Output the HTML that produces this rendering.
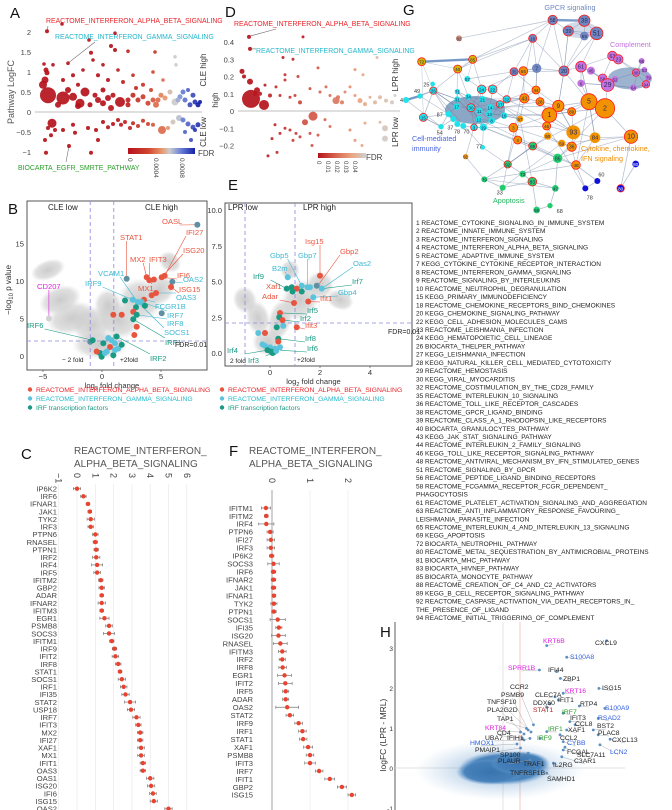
<!DOCTYPE html>
<html><head><meta charset="utf-8">
<style>
html,body{margin:0;padding:0;background:#fff;}
svg{display:block;font-family:"Liberation Sans",Arial,sans-serif;}
</style></head>
<body>
<svg id="fig" width="672" height="810" viewBox="0 0 672 810" xmlns="http://www.w3.org/2000/svg">
<defs>
<linearGradient id="cbA" x1="0" x2="1" y1="0" y2="0">
<stop offset="0" stop-color="#b5121b"/><stop offset="0.3" stop-color="#d0442f"/><stop offset="0.5" stop-color="#e8956a"/><stop offset="0.62" stop-color="#cccccc"/><stop offset="0.78" stop-color="#6f84d8"/><stop offset="1" stop-color="#1520a8"/>
</linearGradient>
<linearGradient id="cbD" x1="0" x2="1" y1="0" y2="0">
<stop offset="0" stop-color="#b5121b"/><stop offset="0.35" stop-color="#d6604d"/><stop offset="0.7" stop-color="#eba57f"/><stop offset="1" stop-color="#d0d0d0"/>
</linearGradient>
<radialGradient id="greyCloud"><stop offset="0" stop-color="#c8c8c8" stop-opacity="0.95"/><stop offset="0.7" stop-color="#d2d2d2" stop-opacity="0.7"/><stop offset="1" stop-color="#dcdcdc" stop-opacity="0"/></radialGradient>
<radialGradient id="blueCloud"><stop offset="0" stop-color="#3a74ae" stop-opacity="1"/><stop offset="0.75" stop-color="#4580ba" stop-opacity="0.95"/><stop offset="1" stop-color="#6a9fd0" stop-opacity="0"/></radialGradient>
<radialGradient id="blueHalo"><stop offset="0" stop-color="#5a8fc4" stop-opacity="0.7"/><stop offset="1" stop-color="#8ab4dc" stop-opacity="0"/></radialGradient>
</defs>
</svg>
<script>
// ---------- Panel A data ----------
const aRank=[9,24,51,77,30,6,8,9,53,73,77,90,117,137,138,15,25,35,40,45,55,60,65,70,80,85,95,105,115,125,10,25,47,42,82,5,7,35,60,65,70,95,100,105,110,115,118,123,127,132,137,142,147,152,157,145,155,150,52,57,75,90,30,20,65,73,98,113,40,90,120,160,162,140,14,17,7,10,25,35,37,50,58,65,70,75,80,83,87,92,95,100,105,110,115,124,130,135,141,145,150,155,160,147,153,157,31,8,53,13,60];
const aLogFC=[2.02,2.2,1.8,1.97,1.22,1.2,1.05,0.98,1.48,1.65,1.55,1.52,1.5,1.38,1.18,1.18,0.8,0.92,0.68,1.05,1.3,0.92,1.18,0.8,1.05,0.75,0.92,0.68,1.0,0.8,0.42,0.35,0.5,0.22,0.25,0.68,0.8,0.38,0.3,0.22,0.35,0.42,0.3,0.38,0.22,0.3,0.18,0.42,0.35,0.5,0.25,0.38,0.3,0.18,0.25,0.5,0.42,0.55,0.18,0.42,0.42,0.3,0.55,0.18,0.55,0.1,0.6,0.55,0.15,0.18,0.3,0.18,0.25,0.3,-0.28,-0.45,-0.7,-0.4,-0.45,-0.32,-0.52,-0.4,-0.45,-0.25,-0.38,-0.3,-0.2,-0.32,-0.25,-0.4,-0.28,-0.35,-0.22,-0.3,-0.32,-0.45,-0.4,-0.25,-0.15,-0.2,-0.3,-0.38,-0.32,-0.5,-0.7,-0.45,-0.85,-1.02,-1.02,-0.58,-0.7];
const aSize=[2,1.8,1.8,1.8,1.8,1.8,2.5,2.5,2,2,2,1.8,1.8,1.8,1.8,1.8,2,2,2,1.8,1.8,2,1.8,2,1.8,2,1.8,2,1.8,1.8,8,6.5,4.5,4.5,5,4,3.5,4,3,3,3,2.5,2.5,2.5,2.5,2.5,3,2.5,2.5,2.5,3.5,2.5,2.5,2.5,2.5,2.5,2.5,2,2.5,2.5,2.5,2.5,3,3,2.5,3,2,2,3,2.5,2.5,2.5,2,2.5,4.5,2,2,2,2,2,2,2,2,2,2,2,2,2,2,2,2,2,2,2,2,4,2,2.5,3,2.5,2.5,2.5,2.5,2,2,2,2,2,2,2,2];
const aFDR=[0,0,0,0,0,0,0,0,0,0,0,0.0001,0.0002,0.00062,0.00062,0,0,0,0,0,0,0,0,0,0.00005,0.0001,0.00015,0.0002,0.0003,0.0004,0,0,0,0,0,0,0,0,0,0,0,0.00015,0.0002,0.00025,0.0003,0.00035,0.0004,0.00045,0.0005,0.00058,0.00062,0.00075,0.00082,0.0009,0.00095,0.0008,0.0009,0.00085,0,0,0.00003,0.0001,0,0,0,0.00003,0.00015,0.0003,0,0.0001,0.0004,0.001,0.001,0.0007,0,0,0,0,0,0,0,0,0,0,0.00003,0.00003,0.00005,0.00008,0.0001,0.00012,0.00015,0.0002,0.00025,0.0003,0.00035,0.0004,0.0005,0.0006,0.00065,0.0008,0.00085,0.0009,0.00095,0.00085,0.0009,0.00095,0,0,0,0,0];
const aTicks=[-1,-0.5,0,0.5,1,1.5,2];
const aTickLabels=["−1","−0.5","0","0.5","1","1.5","2"];
const aCbTicks=[0,0.0004,0.0008];
const aCbLabels=["0","0.0004","0.0008"];

// ---------- Panel D data ----------
const dRank=[9,10,63,43,53,2,11,24,17,10,4,15,20,30,36,40,45,50,55,60,45,25,58,70,78,80,86,90,96,102,98,105,110,115,120,125,130,135,140,146,152,155,123,137,115,73,65,35,40,45,50,56,60,53,32,28,37,70,78,85,90,110,115,125,140,145,145,122,72];
const dValue=[0.43,0.36,0.43,0.31,0.30,0.23,0.07,0.035,0.12,0.17,0.2,0.1,0.1,0.09,0.14,0.09,0.21,0.08,0.09,0.05,0.18,0.15,0.2,0.13,0.25,0.11,0.14,0.09,0.06,0.05,0.08,0.11,0.14,0.09,0.06,0.04,0.08,0.05,0.08,0.06,0.05,0.09,0.21,0.31,0.24,-0.03,-0.065,-0.08,-0.13,-0.1,-0.11,-0.13,-0.15,-0.17,-0.16,-0.26,-0.24,-0.13,-0.14,-0.05,-0.09,-0.11,-0.17,-0.07,-0.065,-0.1,-0.16,-0.2,-0.2];
const dSize=[2,2,1.5,1.5,1.5,2.5,9,5,3,3,2,2,2,2,1.5,1.5,1.5,1.5,1.5,2,1.5,1.5,1.5,1.5,1.5,1.5,1.5,1.5,3.5,2,2,1.5,1.5,1.5,2.5,2,1.5,2,2,2,2,1.5,1.5,1.5,1.5,4.5,3,1.5,1.5,1.5,1.5,1.5,1.5,1.5,1.5,1.5,1.5,1.5,1.5,1.5,1.5,1.5,1.5,1.5,1.5,3,3,1.5,1.5];
const dFDR=[0,0,0.002,0.003,0.004,0,0,0,0,0,0,0.001,0.002,0.004,0.005,0.006,0.007,0.008,0.009,0.01,0.007,0.003,0.009,0.012,0.014,0.015,0.017,0.018,0.02,0.021,0.02,0.023,0.025,0.027,0.03,0.032,0.035,0.038,0.04,0.043,0.046,0.048,0.03,0.04,0.027,0.013,0.012,0.004,0.005,0.006,0.007,0.008,0.009,0.008,0.004,0.003,0.005,0.012,0.014,0.016,0.018,0.025,0.027,0.032,0.04,0.045,0.047,0.03,0.013];
const dTicks=[-0.2,-0.1,0,0.1,0.2,0.3,0.4];
const dTickLabels=["−0.2","−0.1","0","0.1","0.2","0.3","0.4"];
const dCbTicks=[0,0.01,0.02,0.03,0.04];
const dCbLabels=["0","0.01","0.02","0.03","0.04"];

// ---------- Panel B data ----------
const bX=[8.08,3.79,4.01,4.4,5.06,5.31,5.96,5.85,4.58,4.21,3.56,2.6,1.95,3.02,3.36,2.88,3.64,5.06,2.65,2.94,2.65,0.96,1.67,2.94,2.74,-1.0,-0.79,1.24,0.82,0.54,0.11,0.68,1.1,1.38,1.67,-0.17,-0.03,0.4,0.96,-0.45,0.25,1.1,2.09,-4.5];
const bY=[17.5,10.5,10.1,10.2,10.5,10.7,9.9,9.2,8.4,8.1,7.5,7.5,7.4,7.2,7.2,6.5,6.7,5.7,5.9,5.5,4.9,5.5,5.5,3.9,2.8,1.9,2.1,2.6,2.1,2.4,1.7,1.2,1.7,1.0,1.5,0.4,-0.1,0.6,0.1,0.6,0.4,0.8,10.3,5.0];
const bGroup=["s","r","r","r","r","r","s","r","r","r","r","c","t","c","c","t","t","s","r","t","t","r","r","r","r","s","t","t","c","c","t","r","c","c","t","t","t","c","t","r","c","c","s","g"];
const bLabText=["OASL","STAT1","IFI27","ISG20","MX2","IFIT3","IFI6","OAS2","VCAM1","IRF9","MX1","ISG15","OAS3","CD207","FCGR1B","IRF7","IRF8","SOCS1","IRF1","IRF6","IRF2"];
const bLabGroup=["r","r","r","r","r","r","r","c","c","c","r","r","c","m","c","c","c","c","t","t","t"];
const bLabAnchorX=[8.08,2.09,5.31,5.06,3.79,4.01,5.06,5.96,3.02,2.6,4.4,5.85,4.58,-4.5,3.56,3.36,2.94,3.02,2.65,-0.79,1.24];
const bLabAnchorY=[17.5,10.3,10.7,10.5,10.5,10.1,10.5,9.9,7.2,7.5,10.2,9.2,8.4,5.0,7.5,7.2,5.5,7.2,4.9,2.1,2.6];
const bXTicks=[-5,0,5];
const bYTicks=[0,5,10,15];

// ---------- Panel E data ----------
const eX=[2.0,1.87,0.71,1.27,1.5,1.6,2.07,0.67,0.87,1.07,0.9,1.27,1.73,1.53,0.96,0.4,0.37,0.5,0.27,0.53,1.07,-0.47,-0.2,0.33,0.33,-0.2,0.0,0.2,0.4,-0.1,0.05,0.15,0.1,0.25,-0.3];
const eY=[5.4,4.7,5.3,4.7,4.6,4.6,4.5,4.5,4.6,4.5,4.3,4.3,3.9,3.6,3.5,2.8,2.5,2.3,1.8,1.9,1.8,1.4,1.4,1.0,0.8,0.5,0.4,0.3,0.4,0.2,0.1,0.05,0.0,0.15,0.6];
const eGroup=["r","s","c","c","c","c","c","t","t","r","t","t","c","r","r","r","t","r","t","c","r","c","r","t","r","c","c","c","c","t","t","t","t","c","c"];
const eLabText=["Isg15","Gbp2","Gbp5","Gbp7","Oas2","B2m","Irf9","Irf7","Xaf1","Gbp4","Adar","Ifit1","Irf5","Irf2","Ifit3","Irf8","Irf6","Irf4","Irf3"];
const eLabGroup=["r","r","c","c","c","c","t","t","r","c","r","r","t","t","r","t","t","t","t"];
const eLabAnchorX=[2.0,1.87,1.27,1.5,2.07,0.71,0.67,2.07,1.07,1.73,0.96,1.53,0.4,0.5,1.07,0.33,0.4,-0.1,0.1];
const eLabAnchorY=[5.4,4.6,4.7,4.6,4.5,5.3,4.5,4.5,4.5,3.9,3.5,3.6,2.8,2.3,1.8,1.0,0.2,0.2,0.0];
const eXTicks=[0,2,4];
const eYTicks=[0,2.5,5,7.5,10];
const eYTickLabels=["0.0","2.5","5.0","7.5","10.0"];

// ---------- Panel C data ----------
const cGenes=["IP6K2","IRF6","IFNAR1","JAK1","TYK2","IRF3","PTPN6","RNASEL","PTPN1","IRF2","IRF4","IRF5","IFITM2","GBP2","ADAR","IFNAR2","IFITM3","EGR1","PSMB8","SOCS3","IFITM1","IRF9","IFIT2","IRF8","STAT1","SOCS1","IRF1","IFI35","STAT2","USP18","IRF7","IFIT3","MX2","IFI27","XAF1","MX1","IFIT1","OAS3","OAS1","ISG20","IFI6","ISG15","OAS2"];
const cValues=[0,0.35,0.6,0.7,0.75,0.75,1.0,1.0,1.05,1.05,1.1,1.1,1.3,1.35,1.35,1.35,1.35,1.5,1.75,1.75,1.9,2.05,2.1,2.25,2.35,2.45,2.55,2.65,2.9,2.95,3.25,3.35,3.45,3.45,3.5,3.5,3.6,3.6,4.0,4.05,4.15,4.2,5.0];
const cErr=[0.2,0.15,0.1,0.1,0.2,0.15,0.15,0.12,0.12,0.2,0.3,0.18,0.12,0.15,0.1,0.2,0.1,0.25,0.18,0.3,0.12,0.12,0.18,0.15,0.1,0.2,0.18,0.2,0.3,0.2,0.2,0.15,0.15,0.15,0.18,0.18,0.15,0.15,0.2,0.2,0.18,0.2,0.2];
const cTicks=[-1,0,1,2,3,4,5,6];

// ---------- Panel F data ----------
const fGenes=["IFITM1","IFITM2","IRF4","PTPN6","IFI27","IRF3","IP6K2","SOCS3","IRF6","IFNAR2","JAK1","IFNAR1","TYK2","PTPN1","SOCS1","IFI35","ISG20","RNASEL","IFITM3","IRF2","IRF8","EGR1","IFIT2","IRF5","ADAR","OAS2","STAT2","IRF9","IRF1","STAT1","XAF1","PSMB8","IFIT3","IRF7","IFIT1","GBP2","ISG15"];
const fValues=[-0.16,-0.15,-0.15,-0.05,-0.03,-0.03,-0.01,0.04,0.04,0.04,0.04,0.05,0.05,0.05,0.15,0.18,0.17,0.22,0.27,0.27,0.28,0.33,0.35,0.36,0.36,0.4,0.47,0.7,0.8,0.82,0.95,1.0,1.0,1.24,1.52,1.84,2.1];
const fErr=[0.12,0.05,0.2,0.08,0.1,0.1,0.06,0.15,0.06,0.06,0.06,0.05,0.08,0.06,0.2,0.08,0.18,0.18,0.1,0.08,0.1,0.18,0.18,0.08,0.08,0.3,0.1,0.1,0.1,0.1,0.12,0.1,0.14,0.1,0.13,0.12,0.1];
const fTicks=[0,1,2];

// ---------- Panel G network (layout units) ----------
const gLabel=["58","38","39","55","51","18","82","63","23","95","72","85","40","35","65","7","20","61","45","88","53","79","58","52","6","29","64","94","57","","","26","71","24","22","44","43","28","5","2","9","1","89","32","27","21","31","34","","17","30","11","14","13","16","12","8","19","3","15","","","","","","46","67","3","4","90","93","84","10","59","36","69","","91","86","92","48","73","80","","79","83","","80","","47","66",""];
const gX=[458,553,505,553,590,398,177,637,655,725,65,218,173,342,370,410,492,543,573,708,733,745,608,645,543,623,700,738,202,98,60,100,172,245,278,408,373,420,567,615,475,448,515,320,300,248,172,205,18,170,213,238,270,268,312,237,275,250,222,70,145,160,172,190,123,440,360,340,353,443,520,585,693,485,515,398,248,197,473,323,528,368,707,592,253,397,556,662,308,466,410,450];
const gY=[60,62,93,108,100,115,115,168,178,183,185,178,207,215,213,205,213,200,212,218,210,233,235,238,250,255,263,253,237,252,288,272,275,268,268,270,295,305,305,325,318,345,335,298,313,298,298,290,300,320,323,333,322,342,347,358,362,382,382,352,342,357,372,378,380,378,357,383,420,408,397,413,410,430,440,438,442,470,475,493,495,522,492,543,538,545,565,565,563,565,630,617];
const gR=[14,17,15,13,19,12,9,14,14,9,12,12,12,12,13,14,15,16,12,11,9,9,13,10,11,19,10,11,9,7,8,11,8,13,13,12,14,12,24,29,17,22,12,11,11,10,9,9,9,10,12,10,10,10,10,10,10,11,10,12,9,9,9,9,8,12,10,13,12,11,21,16,20,11,14,12,7,8,14,11,13,10,10,9,9,13,9,11,9,10,10,8];
const gGroup=["p","p","p","p","p","p","b","u","u","u","y","y","y","p","o","p","p","u","u","u","u","u","u","u","u","u","u","u","c","c","c","c","c","c","c","o","o","o","o","o","o","o","o","c","c","c","c","c","c","c","c","c","c","c","c","c","c","c","c","c","c","c","c","c","c","o","o","o","o","o","o","o","o","o","o","g","c","o","g","g","o","g","n","n","g","g","n","n","g","g","g","g"];
const gRing=[1,1,1,0,1,1,0,1,1,0,1,1,1,1,1,0,1,1,0,1,0,0,1,0,0,1,0,1,0,0,0,1,0,1,1,1,1,1,1,1,1,1,1,1,1,0,0,0,0,0,1,0,0,0,0,0,0,0,1,1,0,0,0,0,0,1,0,1,1,0,0,0,1,0,1,1,0,0,0,1,1,0,0,0,0,1,0,1,0,0,0,0];
const gEdgeFrom=[10,10,11,10,11,12,10,30,30,29,31,31,31,31,32,46,49,50,51,52,53,50,55,56,57,58,33,33,34,43,44,45,47,49,60,61,62,63,64,60,48,33,34,43,44,36,36,37,40,41,41,40,38,38,39,38,39,70,70,70,41,69,73,74,65,66,67,68,75,78,78,75,79,81,85,89,84,88,84,85,90,89,86,83,86,82,87,0,0,1,1,1,2,3,2,5,5,15,16,16,17,17,18,22,25,7,7,8,19,20,21,26,25,23,24,24,9,13,14,13,14,15,16,13,5,5,0,11,12,28,31,76,77,77,59,35,36,66,37,40,38,38,39,4,4,3,35,54,44,57,58,65,42,42,74,71,6,50,51,52,53,43,45,54,33,34,28,12,11,5,0,2,13,15,35,16,40,17,38,18,24,22,38,7,25,8,27,19,26,31,49,30,59,48,59,10,31,11,32,12,46,32,50,46,55,47,51,33,52,44,55,56,43,41,78,40,74,39,71,38,72,65,75,69,78,73,80,75,85,78,89,79,88,67,75,57,79,58,77,16,38,14,35];
const gEdgeTo=[11,12,12,31,28,28,59,48,31,31,46,49,60,59,46,49,50,51,52,53,54,55,56,57,58,55,34,45,43,44,52,47,32,60,61,62,63,58,61,64,31,50,52,36,36,35,37,40,41,65,42,42,39,40,42,71,72,71,40,41,69,73,74,70,67,67,68,75,78,80,74,79,81,85,89,78,88,85,79,90,91,91,83,80,80,87,72,1,2,2,3,4,3,4,4,0,15,16,2,17,18,22,22,25,23,8,17,19,20,21,27,27,26,19,17,25,19,14,15,15,36,35,40,43,11,13,15,33,47,33,76,57,58,84,64,41,66,54,41,16,17,24,25,17,16,16,13,66,66,75,67,70,38,70,80,72,0,36,37,40,41,35,36,41,14,13,13,5,0,16,16,16,16,35,40,38,41,38,39,25,25,25,71,22,26,21,21,27,9,49,31,60,60,64,64,11,46,31,55,49,57,51,58,55,57,53,56,58,66,65,80,74,70,42,72,70,71,78,80,80,73,86,79,79,81,88,84,75,66,57,84,76,5,38,39,44,66];
const gOuterText=["25","49","4","87","37","78","70","54","77","33","60","78","68"];
const gOuterX=[70,42,0,110,142,162,190,110,228,290,595,560,470];
const gOuterY=[253,273,300,343,383,395,395,397,440,577,523,592,633];
const gPathways=["1 REACTOME_CYTOKINE_SIGNALING_IN_IMMUNE_SYSTEM","2 REACTOME_INNATE_IMMUNE_SYSTEM","3 REACTOME_INTERFERON_SIGNALING","4 REACTOME_INTERFERON_ALPHA_BETA_SIGNALING","5 REACTOME_ADAPTIVE_IMMUNE_SYSTEM","7 KEGG_CYTOKINE_CYTOKINE_RECEPTOR_INTERACTION","8 REACTOME_INTERFERON_GAMMA_SIGNALING","9 REACTOME_SIGNALING_BY_INTERLEUKINS","10 REACTOME_NEUTROPHIL_DEGRANULATION","15 KEGG_PRIMARY_IMMUNODEFICIENCY","18 REACTOME_CHEMOKINE_RECEPTORS_BIND_CHEMOKINES","20 KEGG_CHEMOKINE_SIGNALING_PATHWAY","22 KEGG_CELL_ADHESION_MOLECULES_CAMS","23 REACTOME_LEISHMANIA_INFECTION","24 KEGG_HEMATOPOIETIC_CELL_LINEAGE","26 BIOCARTA_THELPER_PATHWAY","27 KEGG_LEISHMANIA_INFECTION","28 KEGG_NATURAL_KILLER_CELL_MEDIATED_CYTOTOXICITY","29 REACTOME_HEMOSTASIS","30 KEGG_VIRAL_MYOCARDITIS","32 REACTOME_COSTIMULATION_BY_THE_CD28_FAMILY","35 REACTOME_INTERLEUKIN_10_SIGNALING","36 REACTOME_TOLL_LIKE_RECEPTOR_CASCADES","38 REACTOME_GPCR_LIGAND_BINDING","39 REACTOME_CLASS_A_1_RHODOPSIN_LIKE_RECEPTORS","40 BIOCARTA_GRANULOCYTES_PATHWAY","43 KEGG_JAK_STAT_SIGNALING_PATHWAY","44 REACTOME_INTERLEUKIN_2_FAMILY_SIGNALING","46 KEGG_TOLL_LIKE_RECEPTOR_SIGNALING_PATHWAY","48 REACTOME_ANTIVIRAL_MECHANISM_BY_IFN_STIMULATED_GENES","51 REACTOME_SIGNALING_BY_GPCR","56 REACTOME_PEPTIDE_LIGAND_BINDING_RECEPTORS","58 REACTOME_FCGAMMA_RECEPTOR_FCGR_DEPENDENT_","    PHAGOCYTOSIS","61 REACTOME_PLATELET_ACTIVATION_SIGNALING_AND_AGGREGATION","63 REACTOME_ANTI_INFLAMMATORY_RESPONSE_FAVOURING_","    LEISHMANIA_PARASITE_INFECTION","65 REACTOME_INTERLEUKIN_4_AND_INTERLEUKIN_13_SIGNALING","69 KEGG_APOPTOSIS","72 BIOCARTA_NEUTROPHIL_PATHWAY","80 REACTOME_METAL_SEQUESTRATION_BY_ANTIMICROBIAL_PROTEINS","81 BIOCARTA_MHC_PATHWAY","83 BIOCARTA_HIVNEF_PATHWAY","85 BIOCARTA_MONOCYTE_PATHWAY","88 REACTOME_CREATION_OF_C4_AND_C2_ACTIVATORS","89 KEGG_B_CELL_RECEPTOR_SIGNALING_PATHWAY","92 REACTOME_CASPASE_ACTIVATION_VIA_DEATH_RECEPTORS_IN_","    THE_PRESENCE_OF_LIGAND","94 REACTOME_INITIAL_TRIGGERING_OF_COMPLEMENT"];

// ---------- Panel H data ----------
const hGenes=["KRT6B","CXCL9","S100A8","SPRR1B","IFI44","ZBP1","ISG15","KRT16","CCR2","PSMB9","CLEC7A","TNFSF10","DDX60","IFIT1","RTP4","S100A9","PLA2G2D","STAT1","IRF7","RSAD2","TAP1","IFIT3","CCL8","BST2","KRT84","IRF1","XAF1","PLAC8","CD4","UBA7","IFIH1","IRF9","CCL2","CXCL13","HMOX1","CYBB","PMAIP1","FCGAL","LCN2","SP100","SLC7A11","PLAUR","C3AR1","TRAF1","IL2RG","TNFRSF1B","SAMHD1"];
const hX=[1.25,2.96,1.82,1.04,1.53,1.64,2.74,1.72,0.87,0.72,1.49,0.8,1.34,1.58,2.18,2.91,0.6,1.25,1.72,2.72,0.67,1.91,2.06,2.58,0.5,1.25,1.82,2.72,0.55,0.6,0.77,1.06,1.63,3.06,0.4,1.72,0.5,1.77,2.77,0.72,1.72,0.77,1.68,1.06,1.44,0.96,1.25];
const hY=[3.06,3.18,2.77,2.45,2.41,2.24,1.99,1.87,1.08,0.95,1.78,0.9,1.6,1.7,1.55,1.49,0.85,1.52,1.37,1.24,0.99,1.16,1.08,0.95,0.9,0.91,0.95,0.83,0.75,0.7,0.74,0.74,0.83,0.72,0.6,0.66,0.5,0.52,0.58,0.37,0.45,0.2,0.28,0.16,0.12,-0.05,-0.13];
const hGroup=["m","k","b","m","k","k","k","m","k","k","k","k","k","k","k","b","k","d","g","b","k","k","k","k","m","g","k","k","k","k","k","g","k","k","b","b","k","k","b","k","k","k","k","k","k","k","k"];
const hLabX=[543,595,570,508,548,563,602,565,510,501,535,487,533,558,580,605,487,533,562,598,497,570,575,597,485,548,568,598,497,485,507,537,560,612,470,567,475,567,610,500,577,498,574,523,553,510,547];
const hLabY=[643,645,659,670,672,681,690,693,689,697,697,704,705,702,706,710,712,712,714,720,721,720,726,728,730,731,732,735,735,740,740,740,740,742,745,745,752,754,754,757,757,763,763,766,767,775,781];
const hYTicks=[-1,0,1,2,3];
</script>
<script>
const NS='http://www.w3.org/2000/svg';
const svg=document.getElementById('fig');
function mk(tag,attrs,parent){const e=document.createElementNS(NS,tag);for(const k in attrs)e.setAttribute(k,attrs[k]);(parent||svg).appendChild(e);return e;}
function tx(x,y,s,attrs,parent){const e=mk('text',Object.assign({x:x,y:y},attrs||{}),parent);e.textContent=s;return e;}
function grp(name){const g=mk('g',{});

return g;}
function lerpHex(a,b,t){const pa=[1,3,5].map(i=>parseInt(a.substr(i,2),16)),pb=[1,3,5].map(i=>parseInt(b.substr(i,2),16));return 'rgb('+pa.map((v,i)=>Math.round(v+(pb[i]-v)*t)).join(',')+')';}
function ramp(stops,v){if(v<=stops[0][0])return stops[0][1];for(let i=1;i<stops.length;i++){if(v<=stops[i][0]){const t=(v-stops[i-1][0])/(stops[i][0]-stops[i-1][0]);return lerpHex(stops[i-1][1],stops[i][1],t);}}return stops[stops.length-1][1];}
const colStopsA=[[0,'#b5121b'],[0.0003,'#d0442f'],[0.0005,'#e8956a'],[0.00062,'#cccccc'],[0.00078,'#6f84d8'],[0.001,'#1520a8']];
const colStopsD=[[0,'#b5121b'],[0.015,'#d6604d'],[0.03,'#eba57f'],[0.05,'#d0d0d0']];
const GC={r:'#e8553f',c:'#5bc3dc',t:'#1a9a82',s:'#5f8fa0',g:'#d2d2d2',m:'#e020e0'};
const LC={r:'#e8553f',c:'#3fb8d4',t:'#1a9a82',m:'#e020e0'};

// ===== Panel A =====
(function(){
const g=grp('panel-a');
const xA=r=>38+r, yA=v=>112-v*40;
tx(10,18,'A',{'font-size':15,fill:'#111'},g);
const yl=tx(14,92,'Pathway LogFC',{'font-size':9,fill:'#555','text-anchor':'middle',transform:'rotate(-90,14,92)'},g);

aTicks.forEach((t,i)=>{const e=tx(31,yA(t)+3,aTickLabels[i],{'font-size':7.5,fill:'#444','text-anchor':'end'},g);
});
mk('line',{x1:35,x2:202,y1:yA(0),y2:yA(0),stroke:'#aaa','stroke-width':0.8},g);
const pts=grp('a-points');
aRank.forEach((r,i)=>{const c=mk('circle',{cx:xA(r),cy:yA(aLogFC[i]),r:aSize[i],fill:ramp(colStopsA,aFDR[i]),'fill-opacity':0.92},pts);

});
mk('line',{x1:xA(9),y1:yA(2.02),x2:48,y2:26,stroke:'#666','stroke-width':0.6},g);
const t1=tx(46,23,'REACTOME_INTERFERON_ALPHA_BETA_SIGNALING',{'font-size':6.9,fill:'#e8242a'},g);
mk('line',{x1:xA(30),y1:yA(1.22),x2:95,y2:42,stroke:'#666','stroke-width':0.6},g);
const t2=tx(55,39,'REACTOME_INTERFERON_GAMMA_SIGNALING',{'font-size':6.9,fill:'#25b8cc'},g);
mk('line',{x1:xA(31),y1:yA(-0.85),x2:66,y2:162,stroke:'#666','stroke-width':0.6},g);
const t3=tx(18,170,'BIOCARTA_EGFR_SMRTE_PATHWAY',{'font-size':6.9,fill:'#2ca02c'},g);
const cb=mk('rect',{x:128,y:148,width:67,height:6,fill:'url(#cbA)'},g);
const xCb=v=>130+v/0.001*65;
aCbTicks.forEach((t,i)=>{const e=tx(xCb(t)-2,158,aCbLabels[i],{'font-size':6.5,fill:'#444',transform:'rotate(90,'+(xCb(t)-2)+',158)'},g);
});
tx(198,156,'FDR',{'font-size':8,fill:'#444'},g);
})();

// ===== Panel D =====
(function(){
const g=grp('panel-d');
const xD=r=>240+r, yD=v=>111-v*172.5;
tx(225,17,'D',{'font-size':15,fill:'#111'},g);
dTicks.forEach((t,i)=>{const e=tx(234,yD(t)+3,dTickLabels[i],{'font-size':7.5,fill:'#444','text-anchor':'end'},g);
});
[['CLE high',206,70],['CLE low',206,132],['high',218,100],['LPR high',398,75],['LPR low',398,132]].forEach(a=>{const e=tx(a[1],a[2],a[0],{'font-size':8,fill:'#333','text-anchor':'middle',transform:'rotate(-90,'+a[1]+','+a[2]+')'},g);
});
mk('line',{x1:238,x2:400,y1:yD(0),y2:yD(0),stroke:'#aaa','stroke-width':0.8},g);
const pts=grp('d-points');
dRank.forEach((r,i)=>{const c=mk('circle',{cx:xD(r),cy:yD(dValue[i]),r:dSize[i],fill:ramp(colStopsD,dFDR[i]),'fill-opacity':0.92},pts);

});
mk('line',{x1:xD(9)+2,y1:yD(0.43)-1,x2:276,y2:29,stroke:'#666','stroke-width':0.6},g);
const t1=tx(234,26,'REACTOME_INTERFERON_ALPHA_BETA_SIGNALING',{'font-size':6.9,fill:'#e8242a'},g);
mk('line',{x1:xD(10)+2,y1:yD(0.36),x2:256,y2:yD(0.36),stroke:'#666','stroke-width':0.6},g);
const t2=tx(256,53,'REACTOME_INTERFERON_GAMMA_SIGNALING',{'font-size':6.9,fill:'#25b8cc'},g);
mk('rect',{x:318,y:153,width:48,height:5,fill:'url(#cbD)'},g);
const xCb=v=>319+v*900;
dCbTicks.forEach((t,i)=>{const e=tx(xCb(t)-2,161,dCbLabels[i],{'font-size':6,fill:'#444',transform:'rotate(90,'+(xCb(t)-2)+',161)'},g);
});
tx(366,160,'FDR',{'font-size':8,fill:'#444'},g);
})();

// ===== Volcano helper =====
function volcano(opts){
const g=grp(opts.name);
const sx=opts.sx, sy=opts.sy;
mk('rect',{x:opts.box[0],y:opts.box[1],width:opts.box[2]-opts.box[0],height:opts.box[3]-opts.box[1],fill:'#fff',stroke:'#444','stroke-width':0.9},g);
const cl=grp(opts.name+'-background-genes');
opts.clouds.forEach(c=>{const e=mk('ellipse',{cx:c[0],cy:c[1],rx:c[2],ry:c[3],fill:'url(#greyCloud)',transform:'rotate('+(c[4]||0)+','+c[0]+','+c[1]+')'},cl);
});
g.appendChild(cl);
[[sx(-1),opts.box[1],sx(-1),opts.box[3]],[sx(1),opts.box[1],sx(1),opts.box[3]],[opts.box[0],sy(opts.fdrY),opts.box[2],sy(opts.fdrY)]].forEach(l=>{const e=mk('line',{x1:l[0],y1:l[1],x2:l[2],y2:l[3],stroke:'#8f86e0','stroke-width':0.8,'stroke-dasharray':'4,3'},g);
});
opts.labText.forEach((s,i)=>{const px=sx(opts.labAX[i]),py=sy(opts.labAY[i]);const lx=opts.labPos[i][0],ly=opts.labPos[i][1];const w=s.length*4.4;
const cx=Math.max(lx,Math.min(px,lx+w)), cy=(py<ly-6)?ly-7:ly+1;
mk('line',{x1:cx,y1:cy,x2:px,y2:py,stroke:LC[opts.labGroup[i]],'stroke-width':0.6},g);
const e=tx(lx,ly,s,{'font-size':7.6,fill:LC[opts.labGroup[i]]},g);
});
const pts=grp(opts.name+'-genes');
opts.X.forEach((v,i)=>{const c=mk('circle',{cx:sx(v),cy:sy(opts.Y[i]),r:3,fill:GC[opts.G[i]]},pts);
});
g.appendChild(pts);
opts.texts.forEach(t=>{const e=tx(t[1],t[2],t[0],{'font-size':t[3]||7.6,fill:'#222','text-anchor':t[4]||'start'},g);
});
opts.xTicks.forEach(t=>{const e=tx(sx(t),opts.box[3]+9,t<0?'−'+Math.abs(t):String(t),{'font-size':7.6,fill:'#333','text-anchor':'middle'},g);
mk('line',{x1:sx(t),x2:sx(t),y1:opts.box[3],y2:opts.box[3]+2,stroke:'#444','stroke-width':0.6},g);});
opts.yTicks.forEach((t,i)=>{const e=tx(opts.box[0]-3,sy(t)+3,opts.yLabels[i],{'font-size':7.6,fill:'#333','text-anchor':'end'},g);
});
const xl=tx((opts.box[0]+opts.box[2])/2-5,opts.box[3]+18,'',{'font-size':7.6,fill:'#333','text-anchor':'middle'},g);
xl.innerHTML='log<tspan font-size="5.5" dy="2">2</tspan><tspan dy="-2"> fold change</tspan>';

return g;}

volcano({name:'panel-b',box:[27,201,207,370],sx:v=>102+v*11.8,sy:v=>356-v*7.5,fdrY:2,
clouds:[[100,345,28,14,0],[92,325,20,18,-20],[118,320,22,18,25],[72,318,26,16,-15],[140,300,22,22,35],[60,300,22,14,-20],[160,290,14,16,40],[48,270,18,10,-20],[108,305,14,16,0],[170,262,12,10,40]],
X:bX,Y:bY,G:bGroup,labText:bLabText,labGroup:bLabGroup,labAX:bLabAnchorX,labAY:bLabAnchorY,
labPos:[[162,224],[120,240],[186,235],[183,253],[130,262],[149,262],[177,278],[183,282],[98,276],[85,286],[138,291],[179,292],[176,300],[37,289],[155,309],[167,318],[167,326],[164,335],[165,345],[27,328],[150,361]],
texts:[['CLE low',48,210,8],['CLE high',145,210,8],['FDR=0.01',175,347,7],['− 2 fold',62,362,6.5],['+2fold',120,362,6.5]],
xTicks:bXTicks,yTicks:bYTicks,yLabels:bYTicks.map(String)});
const bY1=tx(11,290,'',{'font-size':8,fill:'#333','text-anchor':'middle',transform:'rotate(-90,11,290)'});
bY1.innerHTML='−log<tspan font-size="6" dy="2">10</tspan><tspan dy="-2"> p value</tspan>';

tx(8,214,'B',{'font-size':15,fill:'#111'});

volcano({name:'panel-e',box:[225,203,412,366],sx:v=>270+v*25,sy:v=>353-v*14.3,fdrY:2.1,
clouds:[[268,342,16,14,0],[280,320,12,22,15],[258,318,12,18,-15],[300,300,18,22,30],[245,300,12,14,-20],[320,285,14,14,30],[290,270,10,10,0],[340,300,14,10,20]],
X:eX,Y:eY,G:eGroup,labText:eLabText,labGroup:eLabGroup,labAX:eLabAnchorX,labAY:eLabAnchorY,
labPos:[[305,244],[340,254],[270,258],[298,258],[353,266],[272,271],[253,279],[352,284],[266,289],[338,295],[262,299],[320,301],[307,313],[300,321],[305,328],[305,341],[307,351],[227,353],[248,363]],
texts:[['LPR low',228,210,8],['LPR high',303,210,8],['FDR=0.01',388,334,7],['2 fold',230,363,6.5],['+2fold',297,362,6.5]],
xTicks:eXTicks,yTicks:eYTicks,yLabels:eYTickLabels});
tx(228,190,'E',{'font-size':15,fill:'#111'});

[['b',30],['e',222]].forEach(p=>{const g=grp('legend-'+p[0]);
[['REACTOME_INTERFERON_ALPHA_BETA_SIGNALING','#e8242a','#e8553f',392],['REACTOME_INTERFERON_GAMMA_SIGNALING','#25b8cc','#5bc3dc',401],['IRF transcription factors','#1a9a82','#1a9a82',410]].forEach(l=>{
const c=mk('circle',{cx:p[1],cy:l[3]-2.5,r:2.2,fill:l[2]},g);
const t=tx(p[1]+6,l[3],l[0],{'font-size':6.8,fill:l[1]},g);
});});

// ===== Forest helper =====
function forest(o){
const g=grp(o.name);
const xs=v=>o.x0+v*o.k;
o.ticks.forEach(t=>{mk('line',{x1:xs(t),x2:xs(t),y1:o.gridTop,y2:810,stroke:t===0&&o.zeroDark?'#999':'#e6e6e6','stroke-width':t===0&&o.zeroDark?0.9:0.6},g);
const e=tx(xs(t)-3,o.tickY,t<0?'−'+Math.abs(t):String(t),{'font-size':9,fill:'#444',transform:'rotate(90,'+(xs(t)-3)+','+o.tickY+')'},g);
});
o.genes.forEach((s,i)=>{const y=o.y0+i*o.dy;
const e=tx(o.labelX,y+2.8,s,{'font-size':7.6,fill:'#444','text-anchor':'end'},g);
const v=o.values[i],er=o.err[i];
mk('line',{x1:xs(v-er),x2:xs(v+er),y1:y,y2:y,stroke:'#777','stroke-width':0.7},g);
mk('line',{x1:xs(v-er),x2:xs(v-er),y1:y-1.5,y2:y+1.5,stroke:'#777','stroke-width':0.7},g);
mk('line',{x1:xs(v+er),x2:xs(v+er),y1:y-1.5,y2:y+1.5,stroke:'#777','stroke-width':0.7},g);
const c=mk('circle',{cx:xs(v),cy:y,r:2.2,fill:'#e8432e'},g);
});
const t1=tx(o.titleX,454,'REACTOME_INTERFERON_',{'font-size':10,fill:'#555'},g);
const t2=tx(o.titleX,467,'ALPHA_BETA_SIGNALING',{'font-size':10,fill:'#555'},g);
}
forest({name:'panel-c',x0:77,k:18.3,ticks:cTicks,tickY:473,gridTop:484,genes:cGenes,values:cValues,err:cErr,y0:488.7,dy:7.62,labelX:57,titleX:74,zeroDark:false});
tx(21,459,'C',{'font-size':15,fill:'#111'});
forest({name:'panel-f',x0:272,k:38,ticks:fTicks,tickY:478,gridTop:490,genes:fGenes,values:fValues,err:fErr,y0:508,dy:7.97,labelX:253,titleX:249,zeroDark:true});
tx(229,456,'F',{'font-size':15,fill:'#111'});

// ===== Panel G network =====
(function(){
const g=grp('panel-g');
const gx=v=>400+v/3, gy=v=>v/3;
const FILL={p:'#6f86c0',b:'#d08a70',u:'#c473e0',y:'#d2b400',o:'#f39200',c:'#1ee3ea',g:'#22cc6e',n:'#1010dd'};
tx(403,15,'G',{'font-size':15,fill:'#111'},g);
const hz=grp('g-cluster-density');
[[gx(225),gy(330),30,14,'#2d5f95',0.55],[gx(690),gy(235),22,11,'#3a6aa0',0.5],[gx(540),gy(90),18,8,'#5070a8',0.25]].forEach(h=>{const e=mk('ellipse',{cx:h[0],cy:h[1],rx:h[2],ry:h[3],fill:h[4],'fill-opacity':h[5]},hz);
});
g.appendChild(hz);
const eg=grp('g-edges');
gEdgeFrom.forEach((a,i)=>{const b=gEdgeTo[i];
if(b===undefined||gX[a]===undefined||gX[b]===undefined)return;
const w=(i<87)?[3,0.6,0.6,0.6,0.6,0.6,0.6,3][i]||1:(i===52||i===55||i===56||i===82||i===87?3:0.8);
const l=mk('line',{x1:gx(gX[a]),y1:gy(gY[a]),x2:gx(gX[b]),y2:gy(gY[b]),stroke:w>=2?'#6b93c8':'#6d80a4','stroke-opacity':w>=2?0.9:0.5,'stroke-width':w*0.8},eg);

});
g.appendChild(eg);
const ng=grp('g-nodes');
gLabel.forEach((s,i)=>{const c=mk('circle',{cx:gx(gX[i]),cy:gy(gY[i]),r:gR[i]/3,fill:FILL[gGroup[i]],stroke:gRing[i]?'#ff1a1a':'none','stroke-width':0.8},ng);


if(s){const t=tx(gx(gX[i]),gy(gY[i])+2,s,{'font-size':Math.max(4.5,Math.min(7,gR[i]/3*1.1)),fill:gGroup[i]==='n'?'#fff':'#2a2a5a','text-anchor':'middle'},ng);}
});
g.appendChild(ng);
gOuterText.forEach((s,i)=>{const t=tx(gx(gOuterX[i]),gy(gOuterY[i])+2,s,{'font-size':5.5,fill:'#333'},g);
});
[['GPCR signaling',570,10,'#6f86c0','middle'],['Complement',610,47,'#c473e0','start'],['Cell-mediated',412,141,'#4a64e0','start'],['immunity',412,151,'#4a64e0','start'],['Cytokine, chemokine,',581,151,'#f08c00','start'],['IFN signaling',581,161,'#f08c00','start'],['Apoptosis',493,203,'#22b860','start']].forEach(a=>{const t=tx(a[1],a[2],a[0],{'font-size':7.2,fill:a[3],'text-anchor':a[4]},g);
});
const lg=grp('g-pathway-list');
gPathways.forEach((s,i)=>{const t=tx(416,225+i*8.23,s,{'font-size':6.5,fill:'#222','xml:space':'preserve'},lg);
});
g.appendChild(lg);
})();

// ===== Panel H =====
(function(){
const g=grp('panel-h');
const xs=v=>503+v*35, ys=v=>768-v*40;
tx(380,637,'H',{'font-size':15,fill:'#111'},g);
const yl=tx(386,735,'logFC (LPR - MRL)',{'font-size':8.5,fill:'#333','text-anchor':'middle',transform:'rotate(-90,386,735)'},g);
mk('line',{x1:395,x2:395,y1:622,y2:810,stroke:'#333','stroke-width':0.8},g);
hYTicks.forEach(t=>{const e=tx(393,ys(t)+3,String(t),{'font-size':6.5,fill:'#333','text-anchor':'end'},g);
});
mk('line',{x1:xs(0),x2:xs(0),y1:622,y2:810,stroke:'#d8d8d8','stroke-width':0.7},g);
mk('line',{x1:520,x2:520,y1:622,y2:810,stroke:'#f0b0b0','stroke-width':0.7},g);
mk('line',{x1:395,x2:625,y1:ys(0),y2:ys(0),stroke:'#d8d8d8','stroke-width':0.7},g);
const cl=grp('h-background-genes');
[[500,770,85,30,'url(#blueHalo)'],[505,768,46,17,'url(#blueCloud)'],[490,772,34,13,'url(#blueCloud)'],[520,763,30,12,'url(#blueCloud)']].forEach(c=>{const e=mk('ellipse',{cx:c[0],cy:c[1],rx:c[2],ry:c[3],fill:c[4]},cl);
});
g.appendChild(cl);
const HC={k:'#222',m:'#e020e0',b:'#2f5fe0',g:'#2a9a2a',d:'#b02020'};
hGenes.forEach((s,i)=>{const px=xs(hX[i]),py=ys(hY[i]);
mk('line',{x1:hLabX[i]+s.length*2.2,y1:hLabY[i]+1,x2:px,y2:py,stroke:'#999','stroke-width':0.4},g);
const c=mk('circle',{cx:px,cy:py,r:1.4,fill:'#5b8fc0'},g);
const t=tx(hLabX[i],hLabY[i],s,{'font-size':6.8,fill:HC[hGroup[i]]},g);
});
})();
</script>
</body></html>
